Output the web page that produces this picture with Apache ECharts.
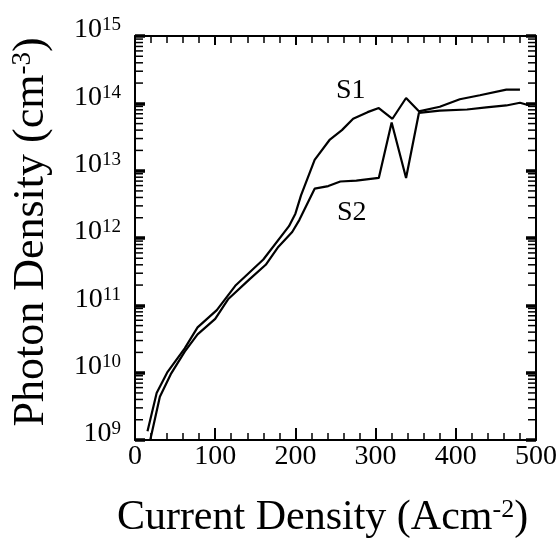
<!DOCTYPE html>
<html>
<head>
<meta charset="utf-8">
<script src="https://cdn.jsdelivr.net/npm/echarts@6/dist/echarts.min.js"></script>
<style>html,body{margin:0;padding:0;background:#fff}#c{width:559px;height:546px}</style>
</head>
<body>
<div id="c"></div>
<script>
// Current density (A cm^-2) vs photon density (cm^-3)
const s1 = [
  [15.6, 1.35e9], [27, 5.0e9], [40, 1.0e10], [62, 2.3e10], [78, 4.7e10],
  [102, 8.5e10], [125, 1.95e11], [160, 4.8e11], [192, 1.5e12], [200, 2.3e12],
  [207, 4.3e12], [224, 1.45e13], [243, 2.9e13], [258, 4.0e13], [272, 5.9e13],
  [290, 7.4e13], [304, 8.5e13], [321, 5.9e13], [338, 1.2e14], [354, 7.6e13],
  [380, 8.9e13], [405, 1.15e14], [430, 1.32e14], [463, 1.6e14], [480, 1.6e14]
];
const s2 = [
  [19, 1.0e9], [31, 4.4e9], [44.6, 9.5e9], [62, 2.05e10], [78, 3.7e10],
  [100, 6.3e10], [116, 1.23e11], [143, 2.45e11], [163, 4.0e11], [178, 7.2e11],
  [196, 1.23e12], [205, 1.86e12], [224, 5.4e12], [241, 5.9e12], [256, 6.9e12],
  [276, 7.1e12], [304, 7.8e12], [320, 5.2e13], [338, 7.8e12], [354, 7.2e13],
  [380, 7.8e13], [414, 8.1e13], [438, 8.7e13], [463, 9.3e13], [480, 1.02e14],
  [492, 9.3e13]
];
const seriesNames = ['S1', 'S2'];
const xTicks = [0, 100, 200, 300, 400, 500];
const yDecades = [9, 10, 11, 12, 13, 14, 15];
const minorMultipliers = [2, 3, 4, 5, 6, 7, 8, 9];

const FONT = 'Liberation Serif';
const minorData = [];
yDecades.slice(0, -1).forEach(d => minorMultipliers.forEach(m => minorData.push([0, m * Math.pow(10, d)])));

const chart = echarts.init(document.getElementById('c'), null, {renderer: 'canvas'});
const xCommon = {
  type: 'value', min: xTicks[0], max: xTicks[xTicks.length - 1], interval: 100,
  splitLine: {show: false},
  axisLine: {show: true, onZero: false, lineStyle: {color: '#000', width: 2}},
  minorTick: {show: true, splitNumber: 5, length: 7, lineStyle: {color: '#000', width: 1.5}},
  minorSplitLine: {show: false}
};
const yCommon = {
  type: 'log', logBase: 10, min: 1e9, max: 1e15,
  splitLine: {show: false},
  axisLine: {show: true, onZero: false, lineStyle: {color: '#000', width: 2}},
  axisTick: {show: true, inside: true, length: 10, lineStyle: {color: '#000', width: 3.5}}
};

chart.setOption({
  backgroundColor: '#fff',
  animation: false,
  grid: {left: 135, right: 23, top: 36, bottom: 106, containLabel: false, outerBoundsMode: 'none'},
  xAxis: [
    Object.assign({}, xCommon, {
      position: 'bottom',
      name: 'Current Density (Acm{s|-2})',
      nameLocation: 'middle', nameGap: 78,
      nameTextStyle: {
        fontFamily: FONT, fontSize: 42, color: '#000', lineHeight: 42,
        verticalAlign: 'middle', padding: [0, 26, 0, 0],
        rich: {s: {fontFamily: FONT, fontSize: 26, lineHeight: 26, verticalAlign: 'top', padding: [0, 0, 26, 0], color: '#000'}}
      },
      axisTick: {show: true, inside: true, length: 12, lineStyle: {color: '#000', width: 2}},
      axisLabel: {fontFamily: FONT, fontSize: 28, color: '#000', margin: 3, lineHeight: 28}
    }),
    Object.assign({}, xCommon, {
      position: 'top',
      axisTick: {show: true, inside: true, length: 9, lineStyle: {color: '#000', width: 2}},
      axisLabel: {show: false}
    })
  ],
  yAxis: [
    Object.assign({}, yCommon, {
      position: 'left',
      name: 'Photon Density (cm{s|-3})',
      nameLocation: 'middle', nameGap: 79, nameRotate: 90,
      nameTextStyle: {
        fontFamily: FONT, fontSize: 44, color: '#000', lineHeight: 44,
        padding: [0, 0, 0, 12],
        rich: {s: {fontFamily: FONT, fontSize: 27, lineHeight: 27, verticalAlign: 'top', padding: [0, 0, 27, 0], color: '#000'}}
      },
      axisLabel: {
        margin: 14,
        padding: [0, 0, 12, 0],
        formatter: v => '{b|10}{s|' + Math.round(Math.log10(v)) + '}',
        rich: {
          b: {fontFamily: FONT, fontSize: 28, lineHeight: 28, verticalAlign: 'middle', color: '#000'},
          s: {fontFamily: FONT, fontSize: 19, lineHeight: 19, verticalAlign: 'top', padding: [0, 0, 26, 0], color: '#000'}
        }
      }
    }),
    Object.assign({}, yCommon, {
      position: 'right',
      axisLabel: {show: false}
    })
  ],
  series: [
    {
      name: seriesNames[0], type: 'line', data: s1, showSymbol: false, symbol: 'none',
      lineStyle: {color: '#000', width: 2.2}, xAxisIndex: 0, yAxisIndex: 0, z: 3
    },
    {
      name: seriesNames[1], type: 'line', data: s2, showSymbol: false, symbol: 'none',
      lineStyle: {color: '#000', width: 2.2}, xAxisIndex: 0, yAxisIndex: 0, z: 3
    },
    {
      type: 'custom', data: minorData, silent: true, clip: false, xAxisIndex: 0, yAxisIndex: 0,
      renderItem: (params, api) => {
        const v = api.value(1);
        const pL = api.coord([xTicks[0], v]);
        const pR = api.coord([xTicks[xTicks.length - 1], v]);
        return {type: 'group', children: [
          {type: 'line', shape: {x1: pL[0], y1: pL[1], x2: pL[0] + 8, y2: pL[1]}, style: {stroke: '#000', lineWidth: 1.5}},
          {type: 'line', shape: {x1: pR[0], y1: pR[1], x2: pR[0] - 8, y2: pR[1]}, style: {stroke: '#000', lineWidth: 1.5}}
        ]};
      }
    }
  ],
  graphic: [
    {type: 'text', left: 336, top: 77, style: {text: seriesNames[0], font: '28px "Liberation Serif"', fill: '#000'}},
    {type: 'text', left: 337, top: 199, style: {text: seriesNames[1], font: '28px "Liberation Serif"', fill: '#000'}}
  ]
});
</script>
</body>
</html>
